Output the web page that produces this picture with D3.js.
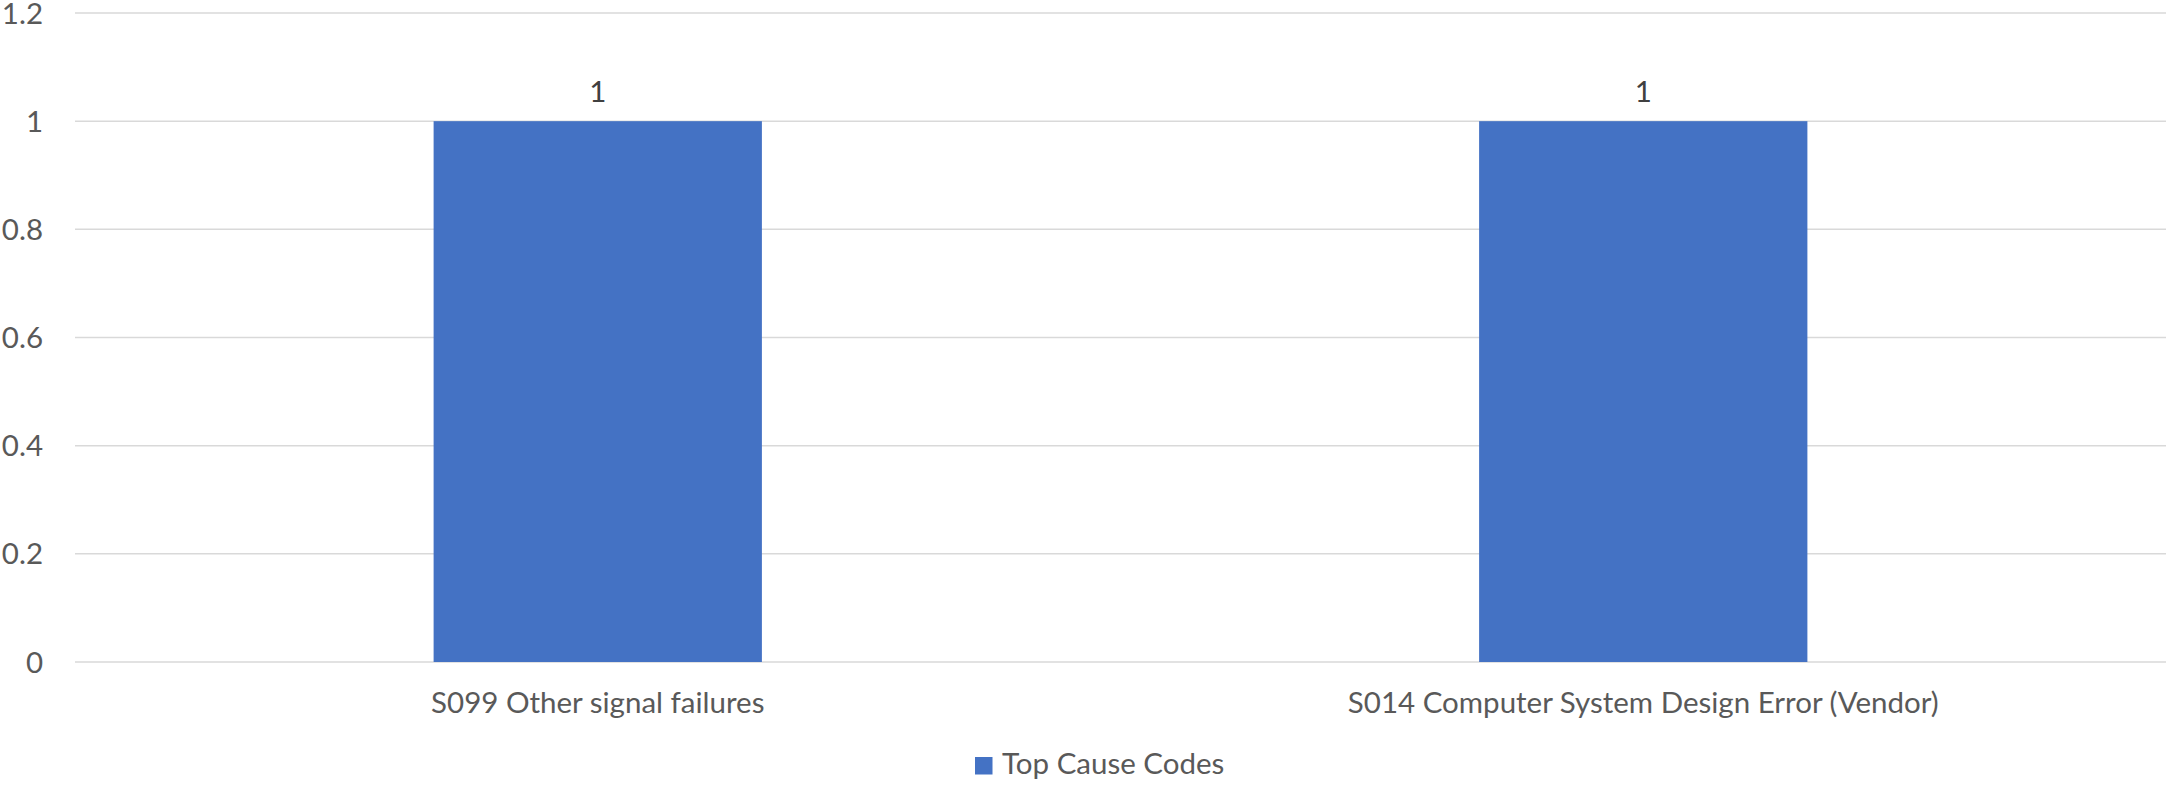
<!DOCTYPE html>
<html>
<head>
<meta charset="utf-8">
<script src="https://cdn.jsdelivr.net/npm/d3@7"></script>
<style>
  html, body { margin: 0; padding: 0; background: #ffffff; }
  svg { display: block; }
  text { font-family: Lato, "Open Sans", sans-serif; }
</style>
</head>
<body>
<svg id="chart" width="2168" height="785"></svg>
<script>
const categories = ["S099 Other signal failures", "S014 Computer System Design Error (Vendor)"];
const values = [1, 1];
const seriesName = "Top Cause Codes";
const yTicks = [0, 0.2, 0.4, 0.6, 0.8, 1, 1.2];

const W = 2168, H = 785;
const margin = { left: 75, right: 2, top: 13, bottom: 123 };
const FS = "29.5px";
const FONT = "Lato, 'Open Sans', sans-serif";
const svg = d3.select("#chart");

const x = d3.scaleBand()
  .domain(categories)
  .range([margin.left, W - margin.right])
  .paddingInner(0.686)
  .paddingOuter(0.343);

const y = d3.scaleLinear()
  .domain([0, 1.2])
  .range([H - margin.bottom, margin.top]);

// gridlines
svg.append("g")
  .selectAll("line")
  .data(yTicks)
  .join("line")
  .attr("x1", margin.left)
  .attr("x2", W - margin.right)
  .attr("y1", d => y(d))
  .attr("y2", d => y(d))
  .attr("stroke", "#d9d9d9")
  .attr("stroke-width", 1.5);

// y axis labels
const yAxis = d3.axisLeft(y).tickValues(yTicks).tickSize(0).tickPadding(0)
  .tickFormat(d => d3.format("")(+d.toFixed(1)));
svg.append("g")
  .attr("transform", `translate(${43},0)`)
  .call(yAxis)
  .call(g => g.select(".domain").remove())
  .call(g => g.selectAll("text")
    .attr("dy", "0.34em")
    .attr("fill", "#595959")
    .style("font-size", FS)
    .style("font-family", FONT));

// bars
svg.append("g")
  .selectAll("rect")
  .data(values)
  .join("rect")
  .attr("x", (d, i) => x(categories[i]))
  .attr("width", x.bandwidth())
  .attr("y", d => y(d))
  .attr("height", d => y(0) - y(d))
  .attr("fill", "#4472c4");

// data labels
svg.append("g")
  .selectAll("text")
  .data(values)
  .join("text")
  .attr("x", (d, i) => x(categories[i]) + x.bandwidth() / 2)
  .attr("y", d => y(d) - 19)
  .attr("text-anchor", "middle")
  .attr("fill", "#404040")
  .style("font-size", FS)
  .text(d => d);

// x axis labels
const xAxis = d3.axisBottom(x).tickSize(0).tickPadding(0);
svg.append("g")
  .attr("transform", `translate(0,${y(0)})`)
  .call(xAxis)
  .call(g => g.select(".domain").remove())
  .call(g => g.selectAll("text")
    .attr("dy", null)
    .attr("y", 51)
    .attr("fill", "#595959")
    .style("font-size", FS)
    .style("font-family", FONT));

// legend
const legend = svg.append("g").attr("transform", "translate(975,757)");
legend.append("rect").attr("width", 17.5).attr("height", 17.5).attr("fill", "#4472c4");
legend.append("text")
  .attr("x", 27)
  .attr("y", 17)
  .attr("fill", "#595959")
  .style("font-size", FS)
  .text(seriesName);
</script>
</body>
</html>
